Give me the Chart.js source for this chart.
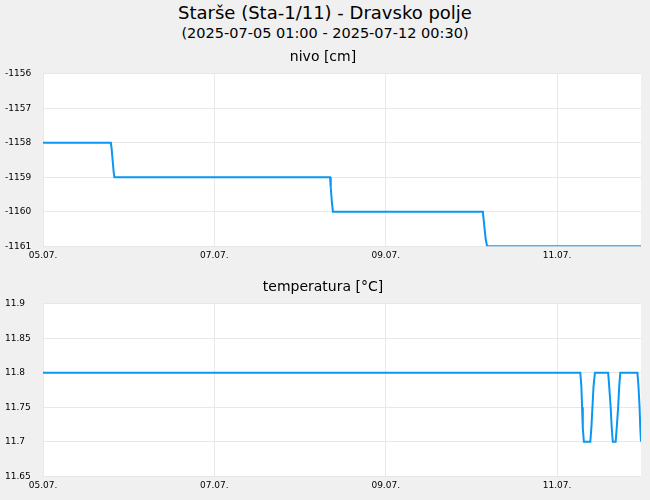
<!DOCTYPE html>
<html><head><meta charset="utf-8">
<script src="https://cdn.jsdelivr.net/npm/chart.js@4"></script>
<style>
body{margin:0;background:#f0f0f0;font-family:"DejaVu Sans",sans-serif;width:650px;height:500px;overflow:hidden;position:relative}
#t1{position:absolute;top:2px;width:650px;text-align:center;font-size:18px;color:#000}
#t2{position:absolute;top:25px;width:650px;text-align:center;font-size:14.5px;font-weight:normal;color:#000}
.c{position:absolute;left:0;width:650px}
</style></head><body>
<div id="t1">Starše (Sta-1/11) - Dravsko polje</div>
<div id="t2">(2025-07-05 01:00 - 2025-07-12 00:30)</div>
<div class="c" style="top:49px;height:218px"><canvas id="c1"></canvas></div>
<div class="c" style="top:279px;height:218px"><canvas id="c2"></canvas></div>
<script>
// hours since 05.07. 00:00
const tickLabels = ["05.07.","07.07.","09.07.","11.07."];
const levelHours = [0,19.0,19.2,19.5,19.8,20.0,80.4,80.6,80.9,81.2,123.2,123.5,124.0,124.4,167.5];
const levelValues = [-1158,-1158,-1158.15,-1158.5,-1158.85,-1159,-1159,-1159.3,-1159.7,-1160,-1160,-1160.3,-1160.8,-1161,-1161];
const tempHours = [0,150.5,150.8,151.0,151.2,151.5,153.3,153.6,153.9,154.2,154.6,158.3,158.6,159.0,159.3,159.6,160.4,160.7,161.1,161.4,161.7,166.5,166.8,167.1,167.3,167.5];
const tempValues = [11.8,11.8,11.78,11.75,11.72,11.7,11.7,11.72,11.75,11.78,11.8,11.8,11.78,11.75,11.72,11.7,11.7,11.72,11.75,11.78,11.8,11.8,11.78,11.75,11.72,11.7];

const bgPlugin={id:'bg',beforeDraw(ch){const a=ch.chartArea,c=ch.ctx;c.save();c.fillStyle='#fff';c.fillRect(a.left,a.top,a.right-a.left,a.bottom-a.top);c.restore();}};
function make(id,title,hours,vals,ymin,ymax,step,fmt){
  new Chart(document.getElementById(id),{type:'line',
    data:{datasets:[{data:hours.map((h,i)=>({x:h,y:vals[i]})),borderColor:'#0a96f3',borderWidth:2,pointRadius:0,tension:0}]},
    options:{responsive:true,maintainAspectRatio:false,animation:false,
      layout:{padding:{left:5,right:9,top:0,bottom:2}},
      plugins:{legend:{display:false},tooltip:{enabled:false},
        title:{display:true,text:title,color:'#000',font:{family:'DejaVu Sans',size:14,weight:'normal'},padding:{top:0,bottom:8}}},
      scales:{
        x:{type:'linear',min:0,max:167.5,afterBuildTicks(s){s.ticks=[0,48,96,144].map(v=>({value:v}));},
          ticks:{color:'#000',font:{family:'DejaVu Sans',size:9},maxRotation:0,padding:4,callback:(v)=>tickLabels[v/48]},
          grid:{color:'#e8e8e8',drawTicks:false},border:{display:false}},
        y:{min:ymin,max:ymax,afterFit(s){s.width=38;},
          ticks:{stepSize:step,color:'#000',font:{family:'DejaVu Sans',size:9},padding:4,callback:fmt,crossAlign:'far'},
          grid:{color:'#e8e8e8',drawTicks:false},border:{display:false}}
      }}, plugins:[bgPlugin]});
}
make('c1','nivo [cm]',levelHours,levelValues,-1161,-1156,1,v=>String(v));
make('c2','temperatura [°C]',tempHours,tempValues,11.65,11.9,0.05,v=>String(Math.round(v*100)/100));
</script></body></html>
